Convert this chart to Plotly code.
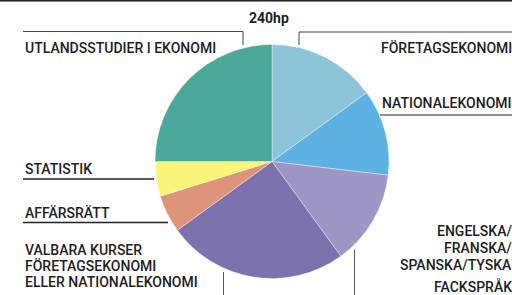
import plotly.graph_objects as go

W, H = 512, 295

title = "240hp"
categories = [
    "FÖRETAGSEKONOMI",
    "NATIONALEKONOMI",
    "ENGELSKA/<br>FRANSKA/<br>SPANSKA/TYSKA<br>FACKSPRÅK",
    "VALBARA KURSER<br>FÖRETAGSEKONOMI<br>ELLER NATIONALEKONOMI",
    "AFFÄRSRÄTT",
    "STATISTIK",
    "UTLANDSSTUDIER I EKONOMI",
]
hp_values = [36, 28.5, 31.5, 60, 12.5, 11.5, 60]
colors = ["#8DC4D9", "#5EB1E3", "#9E96C4", "#7C72AE", "#DD947A", "#FAF57A", "#4AA99B"]

FONT = "Roboto"
TXT = "#1E1E1E"


def px(x):
    return x / W


def py(y):
    return 1 - y / H


# pie geometry (pixels)
cx, cy, r = 272, 161.5, 117

fig = go.Figure()
fig.add_trace(go.Pie(
    labels=categories,
    values=hp_values,
    sort=False,
    direction="clockwise",
    rotation=0,
    marker=dict(colors=colors, line=dict(color="rgba(255,255,255,0.6)", width=0.6)),
    textinfo="none",
    hoverinfo="label+value",
    showlegend=False,
    domain=dict(x=[px(cx - r), px(cx + r)], y=[py(cy + r), py(cy - r)]),
))

shapes = []


def line(x0, y0, x1, y1, color="#444444", width=1):
    shapes.append(dict(type="line", xref="paper", yref="paper",
                       x0=px(x0), y0=py(y0), x1=px(x1), y1=py(y1),
                       line=dict(color=color, width=width)))


# top border
line(0, 0.75, W, 0.75, color="#222222", width=1.5)
# UTLANDSSTUDIER leader
line(23, 31.5, 243, 31.5)
line(243, 31.5, 243, 45)
# FÖRETAGSEKONOMI leader
line(299, 32, W, 32)
line(299, 32, 299, 45)
# NATIONALEKONOMI underline
line(380, 115, W, 115, color="#222222")
# STATISTIK underline
line(23, 179, 154, 179, color="#222222", width=1.3)
# AFFÄRSRÄTT underline
line(23, 222.5, 168, 222.5, color="#222222", width=1.3)
# VALBARA vertical
line(223.5, 272, 223.5, H, color="#555555")
# ENGELSKA vertical
line(354.5, 250, 354.5, H, color="#555555")

annotations = []


def text(s, x, y, xanchor="left", bold=False):
    annotations.append(dict(
        text=f"<b>{s}</b>" if bold else s,
        x=px(x), y=py(y), xref="paper", yref="paper",
        xanchor=xanchor, yanchor="middle", showarrow=False,
        font=dict(family=FONT, size=14, color=TXT, weight=700 if bold else 500),
    ))


text(title, 268.5, 18.3, xanchor="center", bold=True)

lab = {c: c.split("<br>") for c in categories}
text(lab[categories[6]][0], 23, 47.7)
text(lab[categories[0]][0], 379, 48.3)
text(lab[categories[1]][0], 380, 102.7)
text(lab[categories[5]][0], 23, 168.8)
text(lab[categories[4]][0], 23, 213.3)
for s, y in zip(lab[categories[3]], [250, 266, 282]):
    text(s, 23, y)
for s, y in zip(lab[categories[2]], [231, 247.7, 264.8, 286]):
    text(s, 513.5, y, xanchor="right")

fig.update_layout(
    width=W, height=H,
    margin=dict(l=0, r=0, t=0, b=0),
    paper_bgcolor="white",
    plot_bgcolor="white",
    shapes=shapes,
    annotations=annotations,
)

fig.write_html(
    "out.html",
    config={"displayModeBar": False},
    post_script="document.body.style.margin='0';document.body.style.padding='0';"
                "document.body.style.overflow='hidden';",
)
